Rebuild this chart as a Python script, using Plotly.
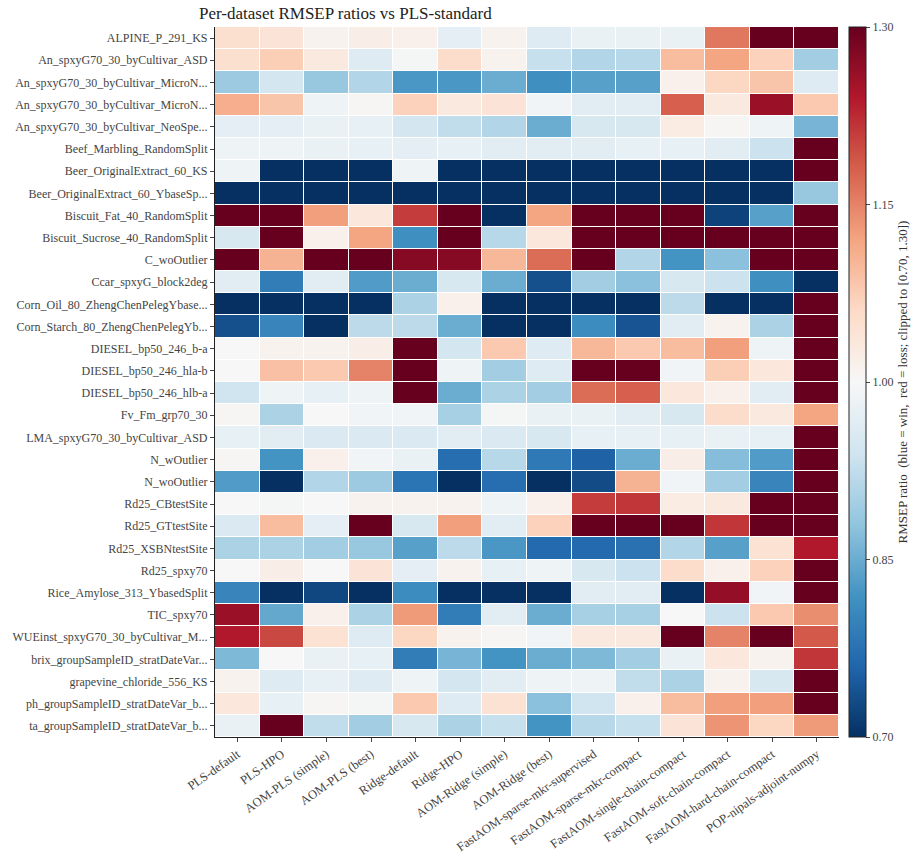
import plotly.graph_objects as go

datasets = [
    "ALPINE_P_291_KS",
    "An_spxyG70_30_byCultivar_ASD",
    "An_spxyG70_30_byCultivar_MicroN...",
    "An_spxyG70_30_byCultivar_MicroN...",
    "An_spxyG70_30_byCultivar_NeoSpe...",
    "Beef_Marbling_RandomSplit",
    "Beer_OriginalExtract_60_KS",
    "Beer_OriginalExtract_60_YbaseSp...",
    "Biscuit_Fat_40_RandomSplit",
    "Biscuit_Sucrose_40_RandomSplit",
    "C_woOutlier",
    "Ccar_spxyG_block2deg",
    "Corn_Oil_80_ZhengChenPelegYbase...",
    "Corn_Starch_80_ZhengChenPelegYb...",
    "DIESEL_bp50_246_b-a",
    "DIESEL_bp50_246_hla-b",
    "DIESEL_bp50_246_hlb-a",
    "Fv_Fm_grp70_30",
    "LMA_spxyG70_30_byCultivar_ASD",
    "N_wOutlier",
    "N_woOutlier",
    "Rd25_CBtestSite",
    "Rd25_GTtestSite",
    "Rd25_XSBNtestSite",
    "Rd25_spxy70",
    "Rice_Amylose_313_YbasedSplit",
    "TIC_spxy70",
    "WUEinst_spxyG70_30_byCultivar_M...",
    "brix_groupSampleID_stratDateVar...",
    "grapevine_chloride_556_KS",
    "ph_groupSampleID_stratDateVar_b...",
    "ta_groupSampleID_stratDateVar_b...",
]

methods = [
    "PLS-default", "PLS-HPO", "AOM-PLS (simple)", "AOM-PLS (best)",
    "Ridge-default", "Ridge-HPO", "AOM-Ridge (simple)", "AOM-Ridge (best)",
    "FastAOM-sparse-mkr-supervised", "FastAOM-sparse-mkr-compact",
    "FastAOM-single-chain-compact", "FastAOM-soft-chain-compact",
    "FastAOM-hard-chain-compact", "POP-nipals-adjoint-numpy",
]

ratios = [
    [1.05, 1.04, 1.01, 1.02, 1.015, 0.97, 1.01, 0.96, 0.98, 0.98, 0.98, 1.16, 1.30, 1.30],
    [1.05, 1.075, 1.03, 0.96, 0.995, 1.055, 1.01, 0.93, 0.91, 0.915, 1.095, 1.12, 1.07, 0.895],
    [0.89, 0.945, 0.885, 0.91, 0.825, 0.825, 0.85, 0.815, 0.835, 0.835, 1.015, 1.065, 1.085, 0.96],
    [1.11, 1.085, 0.985, 1.005, 1.07, 1.03, 1.04, 0.99, 0.965, 0.965, 1.18, 1.03, 1.26, 1.08],
    [0.97, 0.97, 0.98, 0.975, 0.945, 0.925, 0.91, 0.85, 0.95, 0.95, 1.025, 1.005, 0.985, 0.86],
    [0.985, 0.985, 0.98, 0.975, 0.97, 0.975, 0.965, 0.965, 0.965, 0.975, 0.975, 0.965, 0.935, 1.30],
    [0.985, 0.70, 0.70, 0.70, 0.985, 0.70, 0.70, 0.70, 0.70, 0.70, 0.70, 0.70, 0.70, 1.30],
    [0.70, 0.70, 0.70, 0.70, 0.70, 0.70, 0.70, 0.70, 0.70, 0.70, 0.70, 0.70, 0.70, 0.885],
    [1.30, 1.30, 1.125, 1.035, 1.21, 1.30, 0.70, 1.12, 1.30, 1.30, 1.30, 0.72, 0.835, 1.30],
    [0.95, 1.30, 1.015, 1.12, 0.815, 1.30, 0.915, 1.035, 1.30, 1.30, 1.30, 1.30, 1.30, 1.30],
    [1.30, 1.105, 1.30, 1.30, 1.275, 1.275, 1.10, 1.17, 1.30, 0.91, 0.82, 0.875, 1.30, 1.30],
    [0.965, 0.79, 0.965, 0.83, 0.85, 0.95, 0.85, 0.735, 0.895, 0.875, 0.95, 0.935, 0.815, 0.70],
    [0.70, 0.70, 0.70, 0.70, 0.905, 1.015, 0.70, 0.70, 0.70, 0.70, 0.92, 0.70, 0.70, 1.30],
    [0.735, 0.80, 0.70, 0.92, 0.92, 0.85, 0.70, 0.70, 0.81, 0.74, 0.965, 1.01, 0.905, 1.30],
    [1.0, 1.01, 1.01, 1.02, 1.30, 0.945, 1.08, 0.96, 1.10, 1.08, 1.095, 1.125, 0.985, 1.30],
    [1.0, 1.09, 1.08, 1.15, 1.30, 0.985, 0.895, 0.96, 1.30, 1.30, 0.99, 1.075, 1.035, 1.30],
    [0.94, 0.985, 0.975, 0.985, 1.30, 0.85, 0.905, 0.895, 1.17, 1.18, 1.035, 1.015, 0.965, 1.30],
    [1.005, 0.905, 1.0, 0.99, 0.99, 0.90, 0.995, 0.98, 0.98, 0.965, 0.95, 1.055, 1.03, 1.12],
    [0.975, 0.965, 0.955, 0.955, 0.955, 0.965, 0.955, 0.95, 0.975, 0.975, 0.975, 0.98, 0.975, 1.30],
    [1.005, 0.82, 1.015, 0.99, 0.98, 0.77, 0.915, 0.785, 0.755, 0.85, 1.02, 0.87, 0.83, 1.30],
    [0.83, 0.70, 0.91, 0.89, 0.78, 0.70, 0.77, 0.70, 0.73, 1.105, 0.99, 0.895, 0.80, 1.30],
    [1.0, 0.995, 1.0, 1.01, 1.01, 1.01, 0.985, 1.015, 1.21, 1.215, 1.025, 1.03, 1.30, 1.30],
    [0.955, 1.095, 0.97, 1.30, 0.95, 1.125, 0.965, 1.07, 1.30, 1.30, 1.30, 1.215, 1.30, 1.30],
    [0.905, 0.905, 0.895, 0.885, 0.835, 0.92, 0.825, 0.765, 0.765, 0.775, 0.91, 0.835, 1.045, 1.24],
    [1.0, 1.02, 1.0, 1.04, 0.97, 1.01, 0.975, 0.985, 0.95, 0.935, 1.055, 1.015, 1.07, 1.30],
    [0.80, 0.70, 0.725, 0.70, 0.81, 0.70, 0.70, 0.70, 0.965, 0.965, 0.70, 1.265, 0.99, 1.30],
    [1.26, 0.845, 1.015, 0.905, 1.13, 0.79, 0.965, 0.85, 0.90, 0.90, 1.0, 0.935, 1.08, 1.14],
    [1.24, 1.20, 1.045, 0.96, 1.065, 1.01, 1.005, 0.99, 1.03, 1.03, 1.30, 1.15, 1.30, 1.185],
    [0.865, 1.0, 0.98, 0.975, 0.79, 0.86, 0.82, 0.85, 0.865, 0.895, 0.98, 1.035, 1.01, 1.215],
    [1.01, 0.96, 0.975, 0.96, 0.985, 0.945, 0.965, 0.985, 0.985, 0.925, 0.905, 1.01, 0.95, 1.30],
    [1.035, 0.975, 1.005, 0.995, 1.08, 0.96, 1.045, 0.875, 0.94, 1.015, 1.095, 1.125, 1.125, 1.30],
    [0.98, 1.30, 0.925, 0.895, 0.95, 0.905, 0.93, 0.82, 0.915, 0.93, 1.04, 1.135, 1.065, 1.13],
]

cbar_ticks = [0.70, 0.85, 1.00, 1.15, 1.30]

rdbu_r = ["#053061", "#2166ac", "#4393c3", "#92c5de", "#d1e5f0", "#f7f7f7",
          "#fddbc7", "#f4a582", "#d6604d", "#b2182b", "#67001f"]
colorscale = [[i / 10, c] for i, c in enumerate(rdbu_r)]

FONT = "Liberation Serif"

fig = go.Figure(go.Heatmap(
    z=ratios,
    x=methods,
    y=datasets if len(set(datasets)) == len(datasets) else list(range(len(datasets))),
    zmin=0.70, zmax=1.30,
    colorscale=colorscale,
    xgap=1, ygap=1,
    colorbar=dict(
        x=1.0 + 10 / 640, xanchor="left", xpad=0,
        y=1, yanchor="top", len=1, lenmode="fraction", ypad=0,
        thickness=17,
        outlinecolor="#222", outlinewidth=1,
        tickvals=cbar_ticks, ticktext=[f"{v:.2f}" for v in cbar_ticks],
        ticks="outside", ticklen=4, tickcolor="#444",
        tickfont=dict(family=FONT, size=12, color="#444"),
        title=dict(text="RMSEP ratio  (blue = win,  red = loss; clipped to [0.70, 1.30])",
                   side="right", font=dict(family=FONT, size=13, color="#333")),
    ),
))

fig.update_yaxes(
    autorange="reversed",
    tickmode="array",
    tickvals=list(range(len(datasets))),
    ticktext=datasets,
    ticks="outside", ticklen=4, tickcolor="#444",
    showline=True, linecolor="#222", linewidth=1.2,
    tickfont=dict(family=FONT, size=12, color="#444"),
    showgrid=False, zeroline=False,
)
fig.update_xaxes(
    tickangle=-35,
    ticks="outside", ticklen=4, tickcolor="#444",
    showline=True, linecolor="#222", linewidth=1.2,
    tickfont=dict(family=FONT, size=12.5, color="#444"),
    showgrid=False, zeroline=False,
)

fig.update_layout(
    width=923, height=866,
    margin=dict(l=199, r=84, t=27, b=121, pad=0),
    paper_bgcolor="white", plot_bgcolor="white",
    title=dict(text="Per-dataset RMSEP ratios vs PLS-standard",
               x=199 / 923, xanchor="left", y=1 - 13 / 866, yanchor="middle",
               font=dict(family=FONT, size=17, color="#222")),
    font=dict(family=FONT),
)

fig.write_html("out.html")
